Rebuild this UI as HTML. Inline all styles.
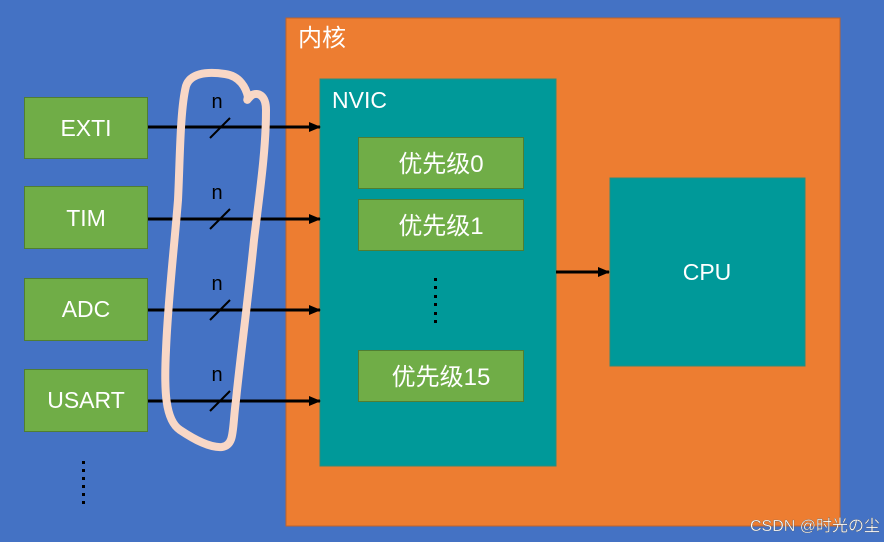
<!DOCTYPE html>
<html><head><meta charset="utf-8"><style>
html,body{margin:0;padding:0;background:#4472C4;}
svg{display:block}
text{font-family:"Liberation Sans","Noto Sans CJK SC",sans-serif;fill:#fff}
</style></head><body>
<svg width="884" height="542" viewBox="0 0 884 542" xmlns="http://www.w3.org/2000/svg">
<defs><marker id="a" markerWidth="12" markerHeight="10" refX="11" refY="5" orient="auto" markerUnits="userSpaceOnUse"><path d="M0,0 L12,5 L0,10 z" fill="#000"/></marker></defs>
<rect width="884" height="542" fill="#4472C4"/>
<rect x="286" y="18" width="554" height="508" fill="#ED7D31" stroke="#c0622a" stroke-width="1"/>
<text x="298" y="46" font-size="24">内核</text>
<rect x="320" y="79" width="236" height="387" fill="#009999" stroke="#2e8a7a"/>
<text x="332" y="108" font-size="23">NVIC</text>
<g fill="#70AD47" stroke="#507e32" stroke-width="1">
<rect x="24.5" y="97.5" width="123" height="61"/>
<rect x="24.5" y="186.5" width="123" height="62"/>
<rect x="24.5" y="278.5" width="123" height="62"/>
<rect x="24.5" y="369.5" width="123" height="62"/>
<rect x="358.5" y="137.5" width="165" height="51"/>
<rect x="358.5" y="199.5" width="165" height="51"/>
<rect x="358.5" y="350.5" width="165" height="51"/>
</g>
<g font-size="23" text-anchor="middle">
<text x="86" y="136">EXTI</text>
<text x="86" y="226">TIM</text>
<text x="86" y="317">ADC</text>
<text x="86" y="408">USART</text>
</g>
<g font-size="24" text-anchor="middle">
<text x="441" y="172">优先级0</text>
<text x="441" y="234">优先级1</text>
<text x="441" y="385">优先级15</text>
</g>
<rect x="610" y="178" width="195" height="188" fill="#009999" stroke="#2e8a7a"/>
<text x="707" y="280" font-size="23" text-anchor="middle">CPU</text>
<g stroke="#000" stroke-width="3">
<line x1="148" y1="127" x2="320" y2="127" marker-end="url(#a)"/>
<line x1="148" y1="219" x2="320" y2="219" marker-end="url(#a)"/>
<line x1="148" y1="310" x2="320" y2="310" marker-end="url(#a)"/>
<line x1="148" y1="401" x2="320" y2="401" marker-end="url(#a)"/>
<line x1="556" y1="272" x2="609" y2="272" marker-end="url(#a)"/>
</g>
<g stroke="#000" stroke-width="2">
<line x1="210" y1="138" x2="230" y2="118"/>
<line x1="210" y1="229" x2="230" y2="209"/>
<line x1="210" y1="320" x2="230" y2="300"/>
<line x1="210" y1="411" x2="230" y2="391"/>
</g>
<g font-size="20" text-anchor="middle">
<text x="217" y="108" style="fill:#000">n</text>
<text x="217" y="199" style="fill:#000">n</text>
<text x="217" y="290" style="fill:#000">n</text>
<text x="217" y="381" style="fill:#000">n</text>
</g>
<g fill="#000">
<rect x="434" y="278" width="3" height="3"/><rect x="434" y="286" width="3" height="3"/><rect x="434" y="295" width="3" height="3"/><rect x="434" y="303" width="3" height="3"/><rect x="434" y="312" width="3" height="3"/><rect x="434" y="320" width="3" height="3"/>
<rect x="82" y="461" width="3" height="3"/><rect x="82" y="469" width="3" height="3"/><rect x="82" y="477" width="3" height="3"/><rect x="82" y="485" width="3" height="3"/><rect x="82" y="493" width="3" height="3"/><rect x="82" y="501" width="3" height="3"/>
</g>
<path d="M248,97 C246,88 240,76 225,74 C205,71 190,74 186,86 C180,110 180,160 178,200 C174,250 168,300 166,350 C164,390 165,420 180,430 C195,440 210,448 222,447 C235,445 232,430 236,400 C240,360 248,300 254,240 C260,190 266,150 266,110 C266,95 258,92 252,95 C248,98 246,103 248,97" fill="none" stroke="#F8D7C6" stroke-width="8" stroke-linecap="round" stroke-linejoin="round"/>
<text x="750" y="531" font-size="16" style="fill:#fff;stroke:#555;stroke-width:0.3">CSDN @时光の尘</text>
</svg>
</body></html>
